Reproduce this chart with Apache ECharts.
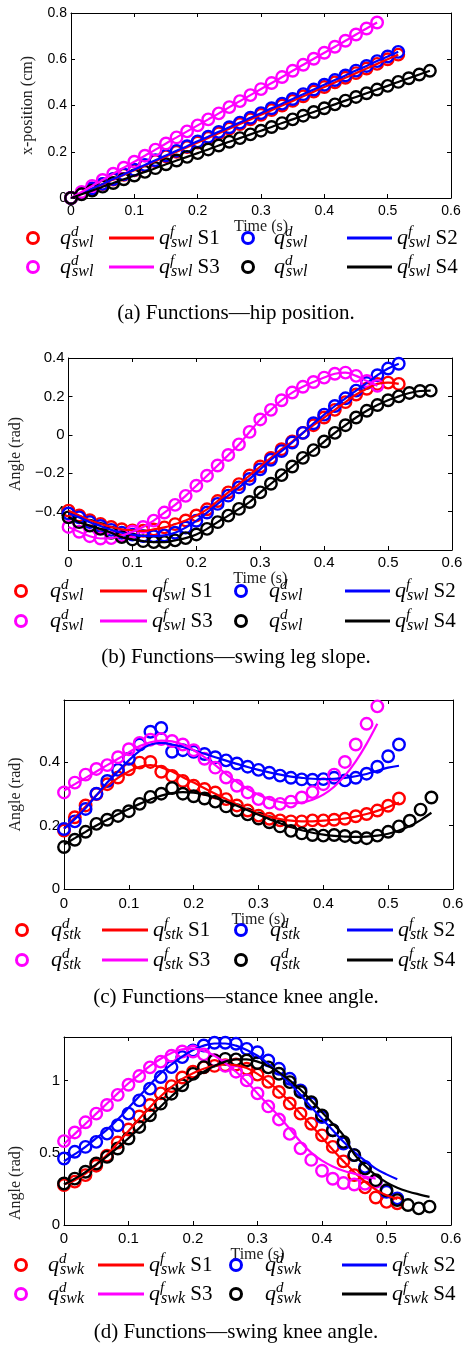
<!DOCTYPE html>
<html><head><meta charset="utf-8">
<script src="https://cdn.jsdelivr.net/npm/echarts@6/dist/echarts.min.js"></script>
<style>html,body{margin:0;padding:0;background:#fff}#c{width:468px;height:1345px}</style>
</head><body><div id="c"></div>
<script>
// ---- time samples (s) ----
const T = [0, 0.0167, 0.0333, 0.05, 0.0667, 0.0833, 0.1, 0.1167, 0.1333, 0.15, 0.1667, 0.1833, 0.2, 0.2167, 0.2333, 0.25, 0.2667, 0.2833, 0.3, 0.3167, 0.3333, 0.35, 0.3667, 0.3833, 0.4, 0.4167, 0.4333, 0.45, 0.4667, 0.4833, 0.5, 0.5167, 0.5333, 0.55, 0.5667];

// ---- (a) hip position ----
const hipD_S1 = [0,0.02,0.04,0.06,0.08,0.10,0.12,0.14,0.16,0.18,0.20,0.22,0.24,0.26,0.28,0.30,0.32,0.34,0.36,0.38,0.40,0.42,0.44,0.46,0.48,0.50,0.52,0.54,0.56,0.58,0.60,0.62];
const hipD_S2 = [0,0.020,0.041,0.061,0.082,0.102,0.122,0.143,0.163,0.184,0.204,0.224,0.245,0.265,0.286,0.306,0.326,0.347,0.367,0.388,0.408,0.428,0.449,0.469,0.49,0.51,0.53,0.551,0.571,0.592,0.612,0.632];
const hipD_S3 = [0,0.026,0.052,0.078,0.105,0.131,0.157,0.183,0.209,0.236,0.262,0.288,0.314,0.34,0.366,0.393,0.419,0.445,0.471,0.497,0.523,0.55,0.576,0.602,0.628,0.654,0.68,0.707,0.733,0.759];
const hipD_S4 = [0,0.016,0.032,0.049,0.065,0.081,0.097,0.113,0.129,0.146,0.162,0.178,0.194,0.21,0.227,0.243,0.259,0.275,0.291,0.307,0.324,0.34,0.356,0.372,0.388,0.405,0.421,0.437,0.453,0.469,0.485,0.502,0.518,0.534,0.55];
const hipF_S1 = hipD_S1, hipF_S2 = hipD_S2, hipF_S3 = hipD_S3, hipF_S4 = hipD_S4;

// ---- (b) swing leg slope ----
const slpD_S1 = [-0.395,-0.42,-0.445,-0.464,-0.48,-0.492,-0.498,-0.5,-0.493,-0.482,-0.465,-0.446,-0.42,-0.388,-0.345,-0.3,-0.257,-0.212,-0.165,-0.12,-0.075,-0.035,0.01,0.05,0.09,0.13,0.17,0.21,0.24,0.265,0.272,0.265];
const slpD_S2 = [-0.41,-0.43,-0.455,-0.475,-0.495,-0.51,-0.52,-0.527,-0.528,-0.524,-0.51,-0.483,-0.448,-0.405,-0.36,-0.317,-0.274,-0.23,-0.18,-0.13,-0.085,-0.04,0.01,0.06,0.105,0.15,0.19,0.23,0.27,0.31,0.345,0.37];
const slpD_S3 = [-0.48,-0.505,-0.528,-0.54,-0.538,-0.525,-0.505,-0.48,-0.447,-0.405,-0.365,-0.318,-0.265,-0.213,-0.16,-0.105,-0.05,0.015,0.08,0.13,0.18,0.22,0.25,0.275,0.298,0.318,0.324,0.307,0.28,0.255];
const slpD_S4 = [-0.43,-0.455,-0.473,-0.49,-0.51,-0.533,-0.545,-0.554,-0.559,-0.559,-0.55,-0.538,-0.519,-0.49,-0.455,-0.421,-0.386,-0.35,-0.3,-0.255,-0.21,-0.165,-0.12,-0.08,-0.035,0.01,0.05,0.09,0.125,0.155,0.18,0.2,0.218,0.228,0.23];
const slpF_S1 = slpD_S1, slpF_S2 = slpD_S2, slpF_S3 = slpD_S3, slpF_S4 = slpD_S4;

// ---- (c) stance knee angle ----
const stkD_S1 = [0.184,0.226,0.263,0.299,0.33,0.351,0.377,0.398,0.40,0.369,0.356,0.34,0.325,0.315,0.304,0.283,0.263,0.247,0.231,0.221,0.216,0.213,0.213,0.216,0.216,0.218,0.221,0.229,0.236,0.247,0.262,0.285];
const stkF_S1 = [0.19,0.225,0.26,0.295,0.325,0.35,0.37,0.385,0.39,0.383,0.37,0.352,0.335,0.317,0.3,0.283,0.266,0.25,0.237,0.227,0.22,0.215,0.213,0.213,0.215,0.218,0.222,0.228,0.236,0.246,0.258,0.272];
const stkD_S2 = [0.189,0.213,0.252,0.30,0.34,0.375,0.41,0.455,0.495,0.507,0.432,0.437,0.432,0.425,0.415,0.405,0.395,0.385,0.375,0.366,0.357,0.35,0.345,0.344,0.346,0.35,0.342,0.35,0.363,0.385,0.418,0.455];
const stkF_S2 = [0.19,0.22,0.255,0.295,0.335,0.37,0.405,0.435,0.455,0.46,0.455,0.447,0.437,0.426,0.415,0.404,0.394,0.384,0.375,0.367,0.36,0.354,0.35,0.347,0.346,0.347,0.35,0.355,0.362,0.372,0.382,0.388];
const stkD_S3 = [0.304,0.335,0.36,0.378,0.39,0.415,0.44,0.46,0.47,0.472,0.466,0.455,0.437,0.41,0.382,0.351,0.325,0.304,0.283,0.272,0.268,0.275,0.288,0.305,0.33,0.36,0.40,0.455,0.52,0.575];
const stkF_S3 = [0.31,0.33,0.35,0.37,0.39,0.41,0.43,0.45,0.462,0.467,0.465,0.455,0.437,0.415,0.39,0.362,0.337,0.315,0.297,0.283,0.274,0.27,0.272,0.281,0.297,0.322,0.357,0.402,0.457,0.52];
const stkD_S4 = [0.132,0.155,0.18,0.205,0.218,0.23,0.245,0.268,0.29,0.3,0.318,0.3,0.292,0.285,0.275,0.26,0.248,0.235,0.222,0.21,0.197,0.183,0.175,0.17,0.168,0.17,0.167,0.163,0.16,0.168,0.18,0.197,0.215,0.25,0.288];
const stkF_S4 = [0.14,0.16,0.18,0.2,0.218,0.235,0.252,0.268,0.282,0.294,0.302,0.305,0.303,0.297,0.287,0.275,0.262,0.248,0.234,0.22,0.207,0.195,0.185,0.177,0.171,0.167,0.165,0.164,0.165,0.168,0.174,0.184,0.198,0.217,0.24];

// ---- (d) swing knee angle ----
const swkD_S1 = [0.276,0.30,0.345,0.41,0.48,0.57,0.66,0.75,0.83,0.91,0.96,1.02,1.06,1.09,1.10,1.105,1.11,1.08,1.04,0.99,0.92,0.84,0.77,0.70,0.62,0.54,0.44,0.345,0.26,0.19,0.16,0.15];
const swkF_S1 = [0.28,0.31,0.355,0.415,0.485,0.565,0.65,0.735,0.815,0.89,0.955,1.01,1.05,1.08,1.1,1.11,1.105,1.085,1.045,0.99,0.925,0.85,0.77,0.69,0.605,0.52,0.44,0.365,0.3,0.245,0.205,0.18];
const swkD_S2 = [0.46,0.506,0.54,0.575,0.632,0.69,0.77,0.862,0.943,1.023,1.092,1.161,1.207,1.241,1.26,1.26,1.253,1.218,1.195,1.138,1.08,1.011,0.931,0.839,0.747,0.655,0.563,0.483,0.402,0.30,0.23,0.184];
const swkF_S2 = [0.44,0.49,0.54,0.6,0.66,0.73,0.81,0.89,0.97,1.05,1.11,1.165,1.21,1.24,1.255,1.255,1.24,1.21,1.17,1.115,1.05,0.98,0.9,0.815,0.735,0.655,0.575,0.505,0.445,0.39,0.35,0.317];
const swkD_S3 = [0.58,0.64,0.71,0.77,0.83,0.9,0.97,1.03,1.09,1.13,1.17,1.2,1.2,1.18,1.14,1.1,1.06,1.0,0.91,0.82,0.73,0.63,0.53,0.45,0.375,0.32,0.29,0.28,0.285,0.30];
const swkF_S3 = [0.56,0.63,0.7,0.77,0.84,0.91,0.98,1.04,1.1,1.15,1.19,1.215,1.22,1.205,1.17,1.12,1.06,0.99,0.91,0.83,0.75,0.665,0.575,0.5,0.445,0.405,0.375,0.355,0.335,0.32];
const swkD_S4 = [0.287,0.321,0.368,0.425,0.471,0.529,0.598,0.678,0.759,0.839,0.908,0.966,1.045,1.092,1.138,1.149,1.145,1.138,1.12,1.09,1.046,0.988,0.92,0.85,0.758,0.655,0.575,0.483,0.39,0.31,0.24,0.172,0.138,0.115,0.127];
const swkF_S4 = [0.28,0.32,0.365,0.42,0.475,0.535,0.6,0.67,0.745,0.82,0.89,0.955,1.01,1.06,1.1,1.13,1.145,1.145,1.13,1.1,1.055,1.0,0.935,0.86,0.78,0.7,0.62,0.49,0.41,0.345,0.295,0.258,0.232,0.212,0.195];

// ---- axis ticks ----
const xTicks = [0, 0.1, 0.2, 0.3, 0.4, 0.5, 0.6];
const yTicksA = [0, 0.2, 0.4, 0.6, 0.8];
const yTicksB = [-0.4, -0.2, 0, 0.2, 0.4];
const yTicksC = [0, 0.2, 0.4];
const yTicksD = [0, 0.5, 1];
const seriesLabels = ['S1', 'S2', 'S3', 'S4'];
const captions = ['(a) Functions\u2014hip position.', '(b) Functions\u2014swing leg slope.', '(c) Functions\u2014stance knee angle.', '(d) Functions\u2014swing knee angle.'];

const COLORS = ['#ff0000', '#0000ff', '#ff00ff', '#000000'];
const SERIF = 'Liberation Serif, DejaVu Serif, serif';
const SANS = 'Liberation Sans, Arial, sans-serif';

const panels = [
  {key:'a', sub:'swl', grid:{left:71, top:13, width:380, height:185}, ymin:0, ymax:0.8, yint:0.2, yTicks:yTicksA,
   yName:'x-position (cm)', yGap:35, yPad:0, xGap:18, lab:14, xMargin:6,
   D:[hipD_S1,hipD_S2,hipD_S3,hipD_S4], F:[hipF_S1,hipF_S2,hipF_S3,hipF_S4],
   rows:[238,267], c1:[48,75], c2:[109,45], c3:[262,288], c4:[347,45], cap:313},
  {key:'b', sub:'swl', grid:{left:63, top:358, width:389, height:192}, ymin:-0.6, ymax:0.4, yint:0.2, yTicks:yTicksB,
   yName:'Angle (rad)', yGap:40, yPad:0, xGap:19, lab:15, xMargin:5,
   D:[slpD_S1,slpD_S2,slpD_S3,slpD_S4], F:[slpF_S1,slpF_S2,slpF_S3,slpF_S4],
   rows:[591,621], c1:[38,67], c2:[100,47], c3:[257,285], c4:[345,45], cap:657},
  {key:'c', sub:'stk', grid:{left:63, top:700, width:390, height:189}, ymin:0, ymax:0.595, yint:0.2, yTicks:yTicksC,
   yName:'Angle (rad)', yGap:40, yPad:0, xGap:18, lab:15, xMargin:7,
   D:[stkD_S1,stkD_S2,stkD_S3,stkD_S4], F:[stkF_S1,stkF_S2,stkF_S3,stkF_S4],
   rows:[930,960], c1:[39,68], c2:[102,46], c3:[258,287], c4:[347,46], cap:997},
  {key:'d', sub:'swk', grid:{left:63, top:1037, width:388, height:188}, ymin:0, ymax:1.3, yint:0.5, yTicks:yTicksD,
   yName:'Angle (rad)', yGap:40, yPad:104, xGap:14, lab:15, xMargin:6,
   D:[swkD_S1,swkD_S2,swkD_S3,swkD_S4], F:[swkF_S1,swkF_S2,swkF_S3,swkF_S4],
   rows:[1265,1294], c1:[36,63], c2:[98,46], c3:[253,282], c4:[342,45], cap:1332}
];

function near(v, list){ return list.some(t => Math.abs(t - v) < 1e-6); }
function fmt(v){ return String(+v.toFixed(2)).replace('-', '\u2212'); }

const grid = [], xAxis = [], yAxis = [], series = [], legend = [], graphic = [];
const tickStyle = {show:true, inside:true, length:4, lineStyle:{color:'#000', width:1}};
const lineAx = {show:true, onZero:false, lineStyle:{color:'#000', width:1}};

panels.forEach((p, gi) => {
  grid.push(Object.assign({containLabel:false}, p.grid));
  const xBase = {type:'value', gridIndex:gi, min:0, max:0.6, interval:0.1, splitLine:{show:false}, axisLine:lineAx, axisTick:tickStyle};
  xAxis.push(Object.assign({}, xBase, {position:'bottom',
    axisLabel:{show:true, margin:p.xMargin, color:'#000', fontFamily:SANS, fontSize:p.lab,
      formatter: v => near(v, xTicks) ? fmt(v) : '', showMinLabel:true, showMaxLabel:true},
    name:'Time (s)', nameLocation:'middle', nameGap:p.xGap,
    nameTextStyle:{fontFamily:SERIF, fontSize:16, color:'#222'}}));
  xAxis.push(Object.assign({}, xBase, {position:'top', axisLabel:{show:false}}));
  const yBase = {type:'value', gridIndex:gi, min:p.ymin, max:p.ymax, interval:p.yint, splitLine:{show:false}, axisLine:lineAx, axisTick:tickStyle};
  yAxis.push(Object.assign({}, yBase, {position:'left',
    axisLabel:{show:true, margin:4, color:'#000', fontFamily:SANS, fontSize:p.lab,
      formatter: v => near(v, p.yTicks) ? fmt(v) : ''},
    name:p.yName, nameLocation:'middle', nameGap:p.yGap,
    nameTextStyle:{fontFamily:SERIF, fontSize:16, color:'#222', padding:[0, p.yPad, 0, 0]}}));
  yAxis.push(Object.assign({}, yBase, {position:'right', axisLabel:{show:false}}));

  for (let s = 0; s < 4; s++) {
    series.push({type:'scatter', name:`${p.key}_d_${s+1}`, xAxisIndex:gi*2, yAxisIndex:gi*2,
      data:p.D[s].map((v, i) => [T[i], v]), symbol:'circle', symbolSize:11.5, silent:true,
      itemStyle:{color:'transparent', borderColor:COLORS[s], borderWidth:2.4, opacity:1}});
    series.push({type:'line', name:`${p.key}_f_${s+1}`, xAxisIndex:gi*2, yAxisIndex:gi*2,
      data:p.F[s].map((v, i) => [T[i], v]), smooth:0.4, showSymbol:false, symbol:'none', silent:true,
      lineStyle:{color:COLORS[s], width:2.2, opacity:1}, itemStyle:{color:COLORS[s]}});
  }

  const rich = {
    q:{fontFamily:SERIF, fontStyle:'italic', fontSize:22, lineHeight:26, verticalAlign:'middle', color:'#000'},
    sup:{fontFamily:SERIF, fontStyle:'italic', fontSize:15, lineHeight:15, verticalAlign:'top', width:1, color:'#000'},
    sub:{fontFamily:SERIF, fontStyle:'italic', fontSize:16, lineHeight:15, verticalAlign:'bottom', color:'#000'},
    s:{fontFamily:SERIF, fontSize:21, lineHeight:26, verticalAlign:'middle', color:'#000'}
  };
  const formatter = name => {
    const parts = name.split('_');
    const kind = parts[1], idx = +parts[2] - 1;
    return '{q|q}{sup|' + kind + '}{sub|' + p.sub + '}' + (kind === 'f' ? '{s| ' + seriesLabels[idx] + '}' : '');
  };
  const gap = p.rows[1] - p.rows[0] - 26;
  const top = p.rows[0] - 13;
  const circleItem = s => ({name:`${p.key}_d_${s+1}`, icon:'circle', itemStyle:{color:'transparent', borderColor:COLORS[s], borderWidth:3, opacity:1}});
  const lineItem = s => ({name:`${p.key}_f_${s+1}`, icon:'rect', itemStyle:{color:COLORS[s], borderWidth:0, opacity:1}});
  const common = {orient:'vertical', top:top, itemGap:gap, padding:0, selectedMode:false, formatter:formatter, textStyle:{rich:rich}};
  const w1 = 2 * (p.c1[1] - p.c1[0] - 5), w3 = 2 * (p.c3[1] - p.c3[0] - 5);
  legend.push(Object.assign({}, common, {left:p.c1[0] - w1/2, itemWidth:w1, itemHeight:11, data:[circleItem(0), circleItem(2)]}));
  legend.push(Object.assign({}, common, {left:p.c2[0], itemWidth:p.c2[1], itemHeight:3, data:[lineItem(0), lineItem(2)]}));
  legend.push(Object.assign({}, common, {left:p.c3[0] - w3/2, itemWidth:w3, itemHeight:11, data:[circleItem(1), circleItem(3)]}));
  legend.push(Object.assign({}, common, {left:p.c4[0], itemWidth:p.c4[1], itemHeight:3, data:[lineItem(1), lineItem(3)]}));

  graphic.push({type:'text', x:236, y:p.cap, silent:true,
    style:{text:captions[gi], fontFamily:SERIF, fontSize:21, fill:'#000', align:'center', verticalAlign:'middle', textAlign:'center', textVerticalAlign:'middle'}});
});

const chart = echarts.init(document.getElementById('c'), null, {renderer:'canvas'});
chart.setOption({animation:false, backgroundColor:'#fff', grid, xAxis, yAxis, series, legend, graphic});
</script></body></html>
